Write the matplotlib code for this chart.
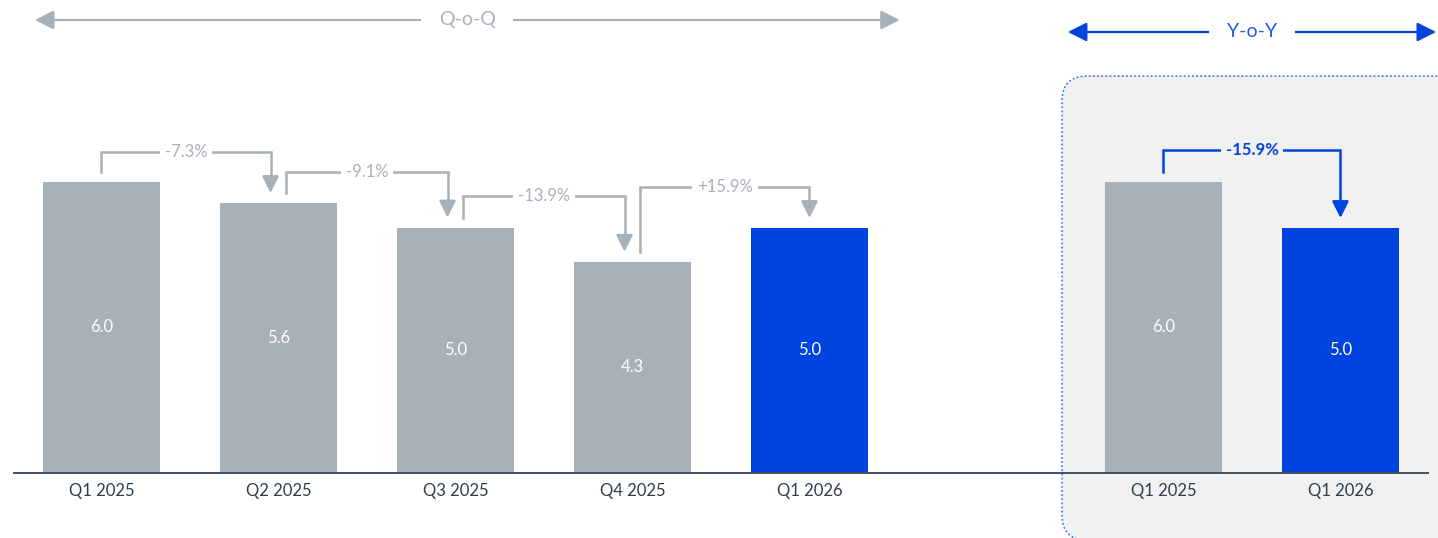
import matplotlib
matplotlib.use("Agg")
import matplotlib.pyplot as plt
from matplotlib.patches import FancyBboxPatch

plt.rcParams['font.family'] = ['Lato', 'DejaVu Sans']

# data
categories = ["Q1 2025", "Q2 2025", "Q3 2025", "Q4 2025", "Q1 2026"]
values = [5.94, 5.51, 5.01, 4.31, 5.0]
value_labels = ["6.0", "5.6", "5.0", "4.3", "5.0"]
qoq_changes = ["-7.3%", "-9.1%", "-13.9%", "+15.9%"]
qoq_lift = [0.61, 0.63, 0.64, 0.84]

yoy_categories = ["Q1 2025", "Q1 2026"]
yoy_values = [5.94, 5.0]
yoy_labels = ["6.0", "5.0"]
yoy_change = "-15.9%"
yoy_lift = 0.65

GREY = "#A7B1B7"
BLUE = "#0044E0"
DARK = "#2B3E4C"
BOXBG = "#F1F1F1"

fig = plt.figure(figsize=(14.38, 5.38), dpi=100)
ax = fig.add_axes([0, 0, 1, 1])
ax.set_xlim(-0.5734, 7.551)
ax.set_ylim(-1.3265, 9.653)
ax.axis("off")

# yoy background box (runs past right edge, rounded corner just at bottom)
box = FancyBboxPatch((5.427, -1.37), 2.25, 9.47,
                     boxstyle="round,pad=0,rounding_size=0.141",
                     mutation_aspect=177 / 49,
                     facecolor=BOXBG, edgecolor="#3A6BE8",
                     linewidth=1.1, linestyle=(0, (1.2, 1.5)), zorder=0,
                     clip_on=False)
ax.add_patch(box)

qoq_x = list(range(len(categories)))
yoy_x = [6, 7]
width = 0.661

colors = [GREY] * (len(categories) - 1) + [BLUE]
ax.bar(qoq_x, values, width=width, color=colors, zorder=2)
ax.bar(yoy_x, yoy_values, width=width, color=[GREY, BLUE], zorder=2)

for x, v, lab in zip(qoq_x + yoy_x, values + yoy_values, value_labels + yoy_labels):
    ax.text(x, v / 2, lab, ha="center", va="center", fontsize=12,
            color="white", zorder=3)

for x, lab in zip(qoq_x + yoy_x, categories + yoy_categories):
    ax.text(x, -0.36, lab, ha="center", va="center", fontsize=12,
            color=DARK, zorder=3)

# baseline
ax.plot([-0.5, 7.5], [0, 0], color="#3D5260", lw=1.4, zorder=3,
        solid_capstyle="butt")

gap = 0.204
off = 0.045


def connector(x0, x1, v0, v1, level, text, color, bg, bold=False):
    ax.plot([x0, x0, x1, x1], [v0 + gap, level, level, v1 + gap + 0.3],
            color=color, lw=1.8, zorder=3, solid_joinstyle="miter")
    ax.annotate("", xy=(x1, v1 + gap), xytext=(x1, v1 + gap + 0.35),
                arrowprops=dict(arrowstyle="-|>,head_length=1.0,head_width=0.5",
                                mutation_scale=10, color=color, lw=1.8,
                                shrinkA=0, shrinkB=0), zorder=3)
    ax.text((x0 + x1) / 2, level, text, ha="center", va="center",
            fontsize=12, color=color, fontweight="bold" if bold else "normal",
            zorder=4,
            bbox=dict(boxstyle="square,pad=0.3", facecolor=bg, edgecolor="none"))


for i, txt in enumerate(qoq_changes):
    x0 = i + (off if i > 0 else 0)
    x1 = i + 1 - (off if i + 1 < len(categories) - 1 else 0)
    level = max(values[i], values[i + 1]) + qoq_lift[i]
    connector(x0, x1, values[i], values[i + 1], level, txt, GREY, "white")

connector(yoy_x[0], yoy_x[1], yoy_values[0], yoy_values[1],
          max(yoy_values) + yoy_lift, yoy_change, BLUE, BOXBG, bold=True)

# top range arrows
def range_arrow(xa, xb, y, text, color, tcolor):
    ax.annotate("", xy=(xa, y), xytext=(xb, y),
                arrowprops=dict(arrowstyle="<|-|>,head_length=1.15,head_width=0.58",
                                mutation_scale=10, color=color, lw=1.6,
                                shrinkA=0, shrinkB=0))
    ax.text((xa + xb) / 2, y, text, ha="center", va="center", fontsize=14,
            color=tcolor, zorder=4,
            bbox=dict(boxstyle="square,pad=0.9", facecolor="white", edgecolor="none"))


range_arrow(-0.376, 4.51, 9.245, "Q-o-Q", GREY, GREY)
range_arrow(5.46, 7.54, 9.0, "Y-o-Y", BLUE, "#2A5BE6")

fig.savefig("out.png", dpi=100)
